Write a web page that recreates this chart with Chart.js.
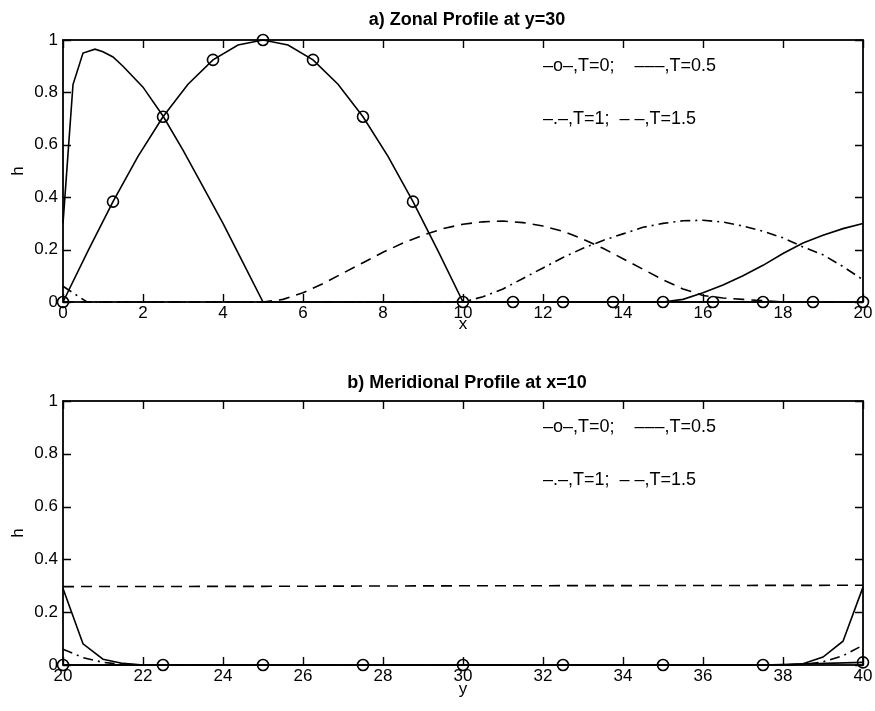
<!DOCTYPE html>
<html><head><meta charset="utf-8">
<script src="https://cdn.jsdelivr.net/npm/chart.js@4.4.1/dist/chart.umd.min.js"></script>
<style>
html,body{margin:0;padding:0;background:#fff;}
#wrap{position:relative;width:875px;height:711px;overflow:hidden;}
canvas{position:absolute;left:0;}
</style></head><body>
<div id="wrap">
<canvas id="c1" width="875" height="345" style="top:0;width:875px;height:345px"></canvas>
<canvas id="c2" width="875" height="366" style="top:345px;width:875px;height:366px"></canvas>
</div>
<script>
// ---------- Panel a) Zonal profile at y=30 ----------
const zonalTitle = 'a) Zonal Profile at y=30';
const zonalXTicks = [0, 2, 4, 6, 8, 10, 12, 14, 16, 18, 20];
const yTicks = [0, 0.2, 0.4, 0.6, 0.8, 1];

const zonalX_T0 = [0, 0.625, 1.25, 1.875, 2.5, 3.125, 3.75, 4.375, 5, 5.625, 6.25, 6.875, 7.5, 8.125, 8.75, 9.375, 10,
  10.625, 11.25, 11.875, 12.5, 13.125, 13.75, 14.375, 15, 15.625, 16.25, 16.875, 17.5, 18.125, 18.75, 19.375, 20];
const zonalH_T0 = [0, 0.195, 0.383, 0.556, 0.707, 0.831, 0.924, 0.981, 1, 0.981, 0.924, 0.831, 0.707, 0.556, 0.383, 0.195, 0,
  0, 0, 0, 0, 0, 0, 0, 0, 0, 0, 0, 0, 0, 0, 0, 0];

const zonalX_T05 = [0, 0.25, 0.5, 0.8, 1, 1.25, 1.5, 2, 2.5, 3, 3.5, 4, 4.5, 5, 10, 15, 15.5, 16, 16.5, 17, 17.5, 18, 18.5, 19, 19.5, 20];
const zonalH_T05 = [0.3, 0.83, 0.95, 0.965, 0.955, 0.935, 0.9, 0.82, 0.71, 0.58, 0.44, 0.3, 0.15, 0, 0, 0, 0.01, 0.035, 0.065, 0.1, 0.14, 0.185, 0.225, 0.255, 0.28, 0.3];

const zonalX_T1 = [0, 0.6, 10, 10.5, 11, 11.5, 12, 12.5, 13, 13.5, 14, 14.5, 15, 15.5, 16, 16.5, 17, 17.5, 18, 18.5, 19, 19.5, 20];
const zonalH_T1 = [0.06, 0, 0, 0.02, 0.05, 0.09, 0.13, 0.17, 0.205, 0.235, 0.26, 0.285, 0.3, 0.31, 0.312, 0.305, 0.29, 0.27, 0.245, 0.21, 0.18, 0.135, 0.085];

const zonalX_T15 = [0, 5, 5.5, 6, 6.5, 7, 7.5, 8, 8.5, 9, 9.5, 10, 10.5, 11, 11.5, 12, 12.5, 13, 13.5, 14, 14.5, 15, 15.5, 16, 16.5, 17, 17.5, 18, 20];
const zonalH_T15 = [0, 0, 0.01, 0.035, 0.07, 0.11, 0.15, 0.19, 0.225, 0.255, 0.28, 0.297, 0.306, 0.309, 0.303, 0.29, 0.27, 0.24, 0.205, 0.165, 0.125, 0.085, 0.05, 0.025, 0.015, 0.01, 0.005, 0, 0];

// ---------- Panel b) Meridional profile at x=10 ----------
const meridTitle = 'b) Meridional Profile at x=10';
const meridXTicks = [20, 22, 24, 26, 28, 30, 32, 34, 36, 38, 40];

const meridY_T0 = [20, 22.5, 25, 27.5, 30, 32.5, 35, 37.5, 40];
const meridH_T0 = [0, 0, 0, 0, 0, 0, 0, 0, 0.01];

const meridY_T05 = [20, 20.5, 21, 21.5, 22, 38, 38.5, 39, 39.5, 40];
const meridH_T05 = [0.29, 0.08, 0.022, 0.006, 0, 0, 0.005, 0.03, 0.09, 0.295];

const meridY_T1 = [20, 20.5, 21, 21.5, 22, 38, 38.5, 39, 39.5, 40];
const meridH_T1 = [0.06, 0.028, 0.01, 0.002, 0, 0, 0.002, 0.012, 0.035, 0.075];

const meridY_T15 = [20, 25, 30, 35, 40];
const meridH_T15 = [0.297, 0.298, 0.3, 0.301, 0.302];

const legendLine1 = '\u2013o\u2013,T=0;    \u2013\u2013\u2013,T=0.5';
const legendLine2 = '\u2013.\u2013,T=1;  \u2013 \u2013,T=1.5';

// ---------- helpers ----------
const FONT = '"Liberation Sans", Arial, Helvetica, sans-serif';
const pts = (xs, ys) => xs.map((x, i) => ({x, y: ys[i]}));
const LW = 1.6;

function makeDatasets(x0, h0, x05, h05, x1, h1, x15, h15, markerEvery) {
  return [
    { label: 'T=0', data: pts(x0, h0), showLine: true, borderColor: '#000', borderWidth: LW,
      pointRadius: ctx => (ctx.dataIndex % markerEvery === 0 ? 5.5 : 0), pointStyle: 'circle',
      pointBorderColor: '#000', pointBackgroundColor: 'rgba(0,0,0,0)', pointBorderWidth: 1.6, clip: false },
    { label: 'T=0.5', data: pts(x05, h05), showLine: true, borderColor: '#000', borderWidth: LW, pointRadius: 0, clip: false },
    { label: 'T=1', data: pts(x1, h1), showLine: true, borderColor: '#000', borderWidth: LW, pointRadius: 0,
      borderDash: [10, 5, 2, 5], clip: false },
    { label: 'T=1.5', data: pts(x15, h15), showLine: true, borderColor: '#000', borderWidth: LW, pointRadius: 0,
      borderDash: [11, 7], clip: false }
  ];
}

function decoPlugin(o) {
  return {
    id: 'deco',
    afterDraw(chart) {
      const ctx = chart.ctx, a = chart.chartArea, xs = chart.scales.x, ys = chart.scales.y;
      ctx.save();
      ctx.strokeStyle = '#000';
      ctx.fillStyle = '#000';
      // inward ticks
      ctx.lineWidth = 1.4;
      ctx.beginPath();
      xs.ticks.forEach(t => {
        const px = Math.round(xs.getPixelForValue(t.value)) + 0.5;
        ctx.moveTo(px, a.bottom); ctx.lineTo(px, a.bottom - 8);
        ctx.moveTo(px, a.top); ctx.lineTo(px, a.top + 8);
      });
      ys.ticks.forEach(t => {
        const py = Math.round(ys.getPixelForValue(t.value)) + 0.5;
        ctx.moveTo(a.left, py); ctx.lineTo(a.left + 8, py);
        ctx.moveTo(a.right, py); ctx.lineTo(a.right - 8, py);
      });
      ctx.stroke();
      // frame
      ctx.lineWidth = 1.8;
      ctx.strokeRect(a.left, a.top, a.right - a.left, a.bottom - a.top);
      // title
      ctx.textAlign = 'center';
      ctx.textBaseline = 'middle';
      ctx.font = 'bold 18px ' + FONT;
      ctx.fillText(o.title, (a.left + a.right) / 2 + 4, a.top - o.titleGap);
      // x label
      ctx.font = '17px ' + FONT;
      ctx.fillText(o.xlabel, (a.left + a.right) / 2, a.bottom + o.xlabelGap);
      // y label
      ctx.save();
      ctx.translate(18, (a.top + a.bottom) / 2);
      ctx.rotate(-Math.PI / 2);
      ctx.fillText('h', 0, 0);
      ctx.restore();
      // legend text
      ctx.textAlign = 'left';
      ctx.font = '18px ' + FONT;
      ctx.fillText(legendLine1, xs.getPixelForValue(o.legendX), ys.getPixelForValue(0.9));
      ctx.fillText(legendLine2, xs.getPixelForValue(o.legendX), ys.getPixelForValue(0.7));
      ctx.restore();
    }
  };
}

function makeChart(id, datasets, xTicks, o) {
  return new Chart(document.getElementById(id), {
    type: 'scatter',
    data: { datasets },
    options: {
      responsive: false,
      animation: false,
      devicePixelRatio: 1,
      layout: { padding: { top: o.padTop, right: 12, left: 0, bottom: 0 } },
      plugins: { legend: { display: false }, tooltip: { enabled: false }, title: { display: false } },
      scales: {
        x: {
          type: 'linear', min: xTicks[0], max: xTicks[xTicks.length - 1],
          afterBuildTicks: s => { s.ticks = xTicks.map(v => ({ value: v })); },
          afterFit: s => { s.height = o.xHeight; },
          grid: { display: false, drawTicks: false },
          border: { display: false },
          ticks: { color: '#000', font: { family: FONT, size: 17 }, padding: 1, maxRotation: 0, autoSkip: false,
                   callback: v => String(v) }
        },
        y: {
          type: 'linear', min: 0, max: 1,
          afterBuildTicks: s => { s.ticks = yTicks.map(v => ({ value: v })); },
          afterFit: s => { s.width = 63; },
          grid: { display: false, drawTicks: false },
          border: { display: false },
          ticks: { color: '#000', font: { family: FONT, size: 17 }, padding: 5,
                   callback: v => String(Math.round(v * 10) / 10) }
        }
      }
    },
    plugins: [decoPlugin(o)]
  });
}

makeChart('c1',
  makeDatasets(zonalX_T0, zonalH_T0, zonalX_T05, zonalH_T05, zonalX_T1, zonalH_T1, zonalX_T15, zonalH_T15, 2),
  zonalXTicks,
  { title: zonalTitle, xlabel: 'x', padTop: 40, xHeight: 43, titleGap: 20, xlabelGap: 22, legendX: 12 });

makeChart('c2',
  makeDatasets(meridY_T0, meridH_T0, meridY_T05, meridH_T05, meridY_T1, meridH_T1, meridY_T15, meridH_T15, 1),
  meridXTicks,
  { title: meridTitle, xlabel: 'y', padTop: 56, xHeight: 46, titleGap: 18, xlabelGap: 24, legendX: 32 });
</script>
</body></html>
